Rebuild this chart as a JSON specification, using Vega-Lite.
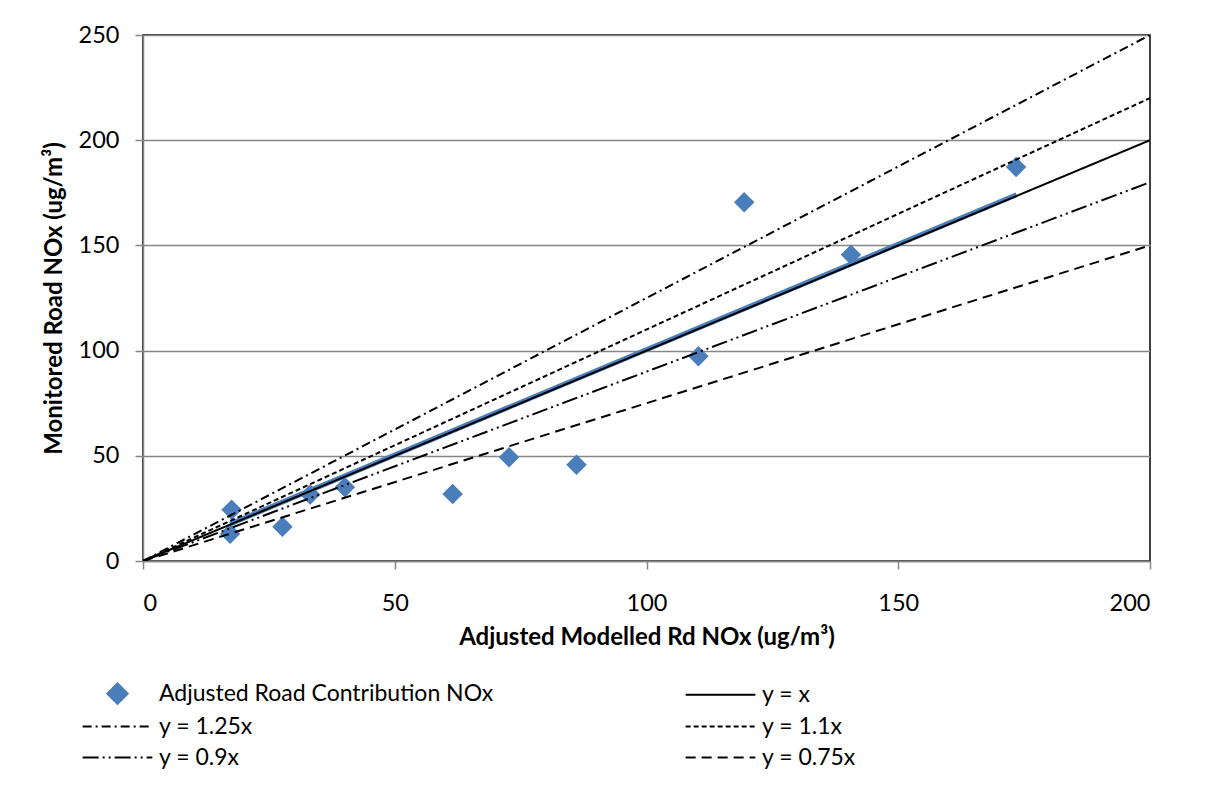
{
  "$schema": "https://vega.github.io/schema/vega-lite/v6.json",
  "width": 1007,
  "height": 526,
  "autosize": "none",
  "padding": {"left": 143, "top": 35, "right": 63, "bottom": 232},
  "background": "white",
  "config": {
    "font": "Lato",
    "view": {"stroke": "black", "strokeWidth": 1.5},
    "axis": {
      "labelFont": "Lato",
      "labelFontSize": 23.5,
      "labelColor": "black",
      "titleFont": "Lato",
      "titleFontSize": 24,
      "titleFontWeight": "bold",
      "titleColor": "black",
      "domainColor": "#868686",
      "domainWidth": 1.5,
      "tickColor": "#868686",
      "tickWidth": 1.5,
      "tickSize": 8,
      "gridColor": "#868686",
      "gridWidth": 1.5
    },
    "legend": {"labelFont": "Lato", "labelFontSize": 23, "labelColor": "black", "labelLimit": 600}
  },
  "datasets": {
    "points": [
      {"series": "Adjusted Road Contribution NOx", "x": 17.6, "y": 24.4},
      {"series": "Adjusted Road Contribution NOx", "x": 17.3, "y": 13.0},
      {"series": "Adjusted Road Contribution NOx", "x": 27.7, "y": 16.3},
      {"series": "Adjusted Road Contribution NOx", "x": 33.2, "y": 31.6},
      {"series": "Adjusted Road Contribution NOx", "x": 40.1, "y": 35.1},
      {"series": "Adjusted Road Contribution NOx", "x": 61.5, "y": 31.9},
      {"series": "Adjusted Road Contribution NOx", "x": 72.7, "y": 49.3},
      {"series": "Adjusted Road Contribution NOx", "x": 86.1, "y": 45.8},
      {"series": "Adjusted Road Contribution NOx", "x": 110.3, "y": 97.3},
      {"series": "Adjusted Road Contribution NOx", "x": 119.4, "y": 170.5},
      {"series": "Adjusted Road Contribution NOx", "x": 140.6, "y": 145.5},
      {"series": "Adjusted Road Contribution NOx", "x": 173.4, "y": 187.3}
    ],
    "trend": [
      {"x": 17.3, "y": 17.6},
      {"x": 173.5, "y": 174.1}
    ],
    "lines": [
      {"series": "y = x", "x": 0, "y": 0},
      {"series": "y = x", "x": 200, "y": 200},
      {"series": "y = 1.25x", "x": 0, "y": 0},
      {"series": "y = 1.25x", "x": 200, "y": 250},
      {"series": "y = 1.1x", "x": 0, "y": 0},
      {"series": "y = 1.1x", "x": 200, "y": 220},
      {"series": "y = 0.9x", "x": 0, "y": 0},
      {"series": "y = 0.9x", "x": 200, "y": 180},
      {"series": "y = 0.75x", "x": 0, "y": 0},
      {"series": "y = 0.75x", "x": 200, "y": 150}
    ]
  },
  "encoding": {
    "x": {
      "field": "x", "type": "quantitative",
      "scale": {"domain": [0, 200], "nice": false},
      "axis": {"values": [0, 50, 100, 150, 200], "grid": false, "labelPadding": 22, "title": "Adjusted Modelled Rd NOx (ug/m³)", "titlePadding": 11}
    },
    "y": {
      "field": "y", "type": "quantitative",
      "scale": {"domain": [0, 250], "nice": false},
      "axis": {"values": [0, 50, 100, 150, 200, 250], "grid": true, "labelPadding": 16, "title": "Monitored Road NOx (ug/m³)", "titlePadding": 12}
    }
  },
  "layer": [
    {
      "data": {"name": "points"},
      "mark": {"type": "point", "filled": true, "opacity": 1, "size": 420},
      "encoding": {
        "color": {
          "field": "series", "type": "nominal",
          "scale": {
            "domain": ["Adjusted Road Contribution NOx", "y = 1.25x", "y = 0.9x", "y = x", "y = 1.1x", "y = 0.75x"],
            "range": ["#4A7EBB", "black", "black", "black", "black", "black"]
          },
          "legend": {
            "title": null,
            "orient": "none",
            "legendX": -37,
            "legendY": 647,
            "columns": 2,
            "columnPadding": 187,
            "rowPadding": 7,
            "symbolSize": 420,
            "symbolStrokeWidth": 2,
            "labelOffset": 30,
            "encode": {
              "symbols": {
                "update": {
                  "fill": {"scale": "color", "field": "value"},
                  "stroke": {"scale": "color", "field": "value"},
                  "strokeWidth": {"value": 2},
                  "opacity": {"value": 1},
                  "strokeDash": {"scale": "strokeDash", "field": "value"}
                }
              }
            }
          }
        },
        "shape": {
          "field": "series", "type": "nominal",
          "scale": {
            "domain": ["Adjusted Road Contribution NOx", "y = 1.25x", "y = 0.9x", "y = x", "y = 1.1x", "y = 0.75x"],
            "range": ["diamond", "M-3.4,0L3.4,0", "M-3.4,0L3.4,0", "M-3.4,0L3.4,0", "M-3.4,0L3.4,0", "M-3.4,0L3.4,0"]
          }
        }
      }
    },
    {
      "data": {"name": "trend"},
      "mark": {"type": "line", "color": "#4A7EBB", "strokeWidth": 5, "strokeCap": "butt"},
      "encoding": {}
    },
    {
      "data": {"name": "lines"},
      "mark": {"type": "line", "strokeWidth": 2, "clip": true},
      "encoding": {
        "detail": {"field": "series"},
        "color": {
          "field": "series", "type": "nominal",
          "scale": {
            "domain": ["Adjusted Road Contribution NOx", "y = 1.25x", "y = 0.9x", "y = x", "y = 1.1x", "y = 0.75x"]
          }
        },
        "strokeDash": {
          "field": "series", "type": "nominal",
          "scale": {
            "domain": ["Adjusted Road Contribution NOx", "y = 1.25x", "y = 0.9x", "y = x", "y = 1.1x", "y = 0.75x"],
            "range": [[1, 0], [9, 4, 2, 4], [16, 4, 2, 4, 2, 4], [1, 0], [5, 3], [10, 6]]
          }
        }
      }
    }
  ]
}
